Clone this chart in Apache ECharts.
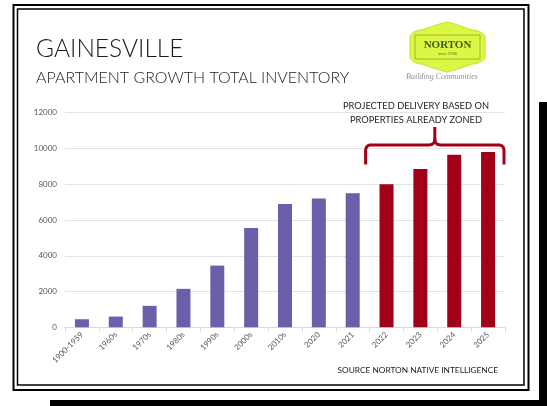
<!DOCTYPE html>
<html>
<head>
<meta charset="utf-8">
<script src="https://cdn.jsdelivr.net/npm/echarts@6/dist/echarts.min.js"></script>
<style>
  html, body { margin: 0; padding: 0; background: #ffffff; }
  #chart { width: 547px; height: 406px; }
</style>
</head>
<body>
<div id="chart"></div>
<script>
// Apartment inventory by period (units)
const categories = ['1900-1959', '1960s', '1970s', '1980s', '1990s', '2000s', '2010s', '2020', '2021', '2022', '2023', '2024', '2025'];
const existingUnits  = [450, 600, 1200, 2150, 3450, 5550, 6900, 7200, 7500, null, null, null, null];
const projectedUnits = [null, null, null, null, null, null, null, null, null, 8000, 8850, 9650, 9800];

const yMin = 0;
const yMax = 12000;
const yStep = 2000;

const titleText = 'GAINESVILLE';
const subtitleText = 'APARTMENT GROWTH TOTAL INVENTORY';
const noteLines = ['PROJECTED DELIVERY BASED ON', 'PROPERTIES ALREADY ZONED'];
const sourceText = 'SOURCE NORTON NATIVE INTELLIGENCE';

const PURPLE = '#6b5fa9';
const RED = '#a10018';
const FONT = 'Lato, "Open Sans", "Noto Sans", sans-serif';

const chart = echarts.init(document.getElementById('chart'), null, { renderer: 'canvas' });

const option = {
  backgroundColor: '#ffffff',
  animation: false,
  grid: { left: 65, right: 42, top: 112.7, bottom: 78.7, containLabel: false },
  xAxis: {
    type: 'category',
    data: categories,
    axisLine: { lineStyle: { color: '#d9d9d9', width: 1 } },
    axisTick: { show: true, alignWithLabel: false, length: 4, lineStyle: { color: '#d9d9d9' } },
    axisLabel: { rotate: 45, interval: 0, fontSize: 8, color: '#595959', fontFamily: FONT, margin: 6 }
  },
  yAxis: {
    type: 'value',
    min: yMin,
    max: yMax,
    interval: yStep,
    axisLine: { show: false },
    axisTick: { show: false },
    axisLabel: { fontSize: 8, color: '#595959', fontFamily: FONT, margin: 8, formatter: (v) => String(v) },
    splitLine: { lineStyle: { color: '#e3e3e3', width: 1 } }
  },
  series: [
    {
      name: 'Existing',
      type: 'bar',
      data: existingUnits,
      barWidth: 14,
      barGap: '-100%',
      itemStyle: { color: PURPLE }
    },
    {
      name: 'Projected',
      type: 'bar',
      data: projectedUnits,
      barWidth: 14,
      itemStyle: { color: RED }
    }
  ]
};

chart.setOption(option);

// Sample a quadratic curve into polyline points
function quad(p0, c, p1, n) {
  const pts = [];
  for (let i = 1; i <= n; i++) {
    const t = i / n, u = 1 - t;
    pts.push([u * u * p0[0] + 2 * u * t * c[0] + t * t * p1[0], u * u * p0[1] + 2 * u * t * c[1] + t * t * p1[1]]);
  }
  return pts;
}

// Brace spanning the projected years, placed from the axis scale
const cat0 = chart.convertToPixel({ gridIndex: 0 }, [9, 0]);
const cat1 = chart.convertToPixel({ gridIndex: 0 }, [10, 0]);
const catLast = chart.convertToPixel({ gridIndex: 0 }, [categories.length - 1, 0]);
const band = cat1[0] - cat0[0];
const bx0 = cat0[0] - band / 2 - 4;
const bx1 = catLast[0] + band / 2 - 1;
const yEnd = chart.convertToPixel({ gridIndex: 0 }, [0, 9100])[1];
const yBar = chart.convertToPixel({ gridIndex: 0 }, [0, 10200])[1];
const yTip = chart.convertToPixel({ gridIndex: 0 }, [0, 11200])[1];
const bmid = (bx0 + bx1) / 2;
const r = 6;

const leftHalf = [[bx0, yEnd], [bx0, yBar + r]]
  .concat(quad([bx0, yBar + r], [bx0, yBar], [bx0 + r, yBar], 8))
  .concat([[bmid - r, yBar]])
  .concat(quad([bmid - r, yBar], [bmid, yBar], [bmid, yBar - r], 8))
  .concat([[bmid, yTip]]);
const rightHalf = [[bmid, yBar - r]]
  .concat(quad([bmid, yBar - r], [bmid, yBar], [bmid + r, yBar], 8))
  .concat([[bx1 - r, yBar]])
  .concat(quad([bx1 - r, yBar], [bx1, yBar], [bx1, yBar + r], 8))
  .concat([[bx1, yEnd]]);

// Logo plaque outline
const plaque = [[410, 36]]
  .concat(quad([410, 36], [414, 30], [422, 30], 6))
  .concat(quad([422, 30], [438, 24], [447, 22], 8))
  .concat(quad([447, 22], [456, 24], [472, 30], 8))
  .concat(quad([472, 30], [480, 30], [485, 36], 6))
  .concat([[485, 58]])
  .concat(quad([485, 58], [480, 64], [472, 64], 6))
  .concat(quad([472, 64], [456, 70], [447, 72], 8))
  .concat(quad([447, 72], [438, 70], [422, 64], 8))
  .concat(quad([422, 64], [414, 64], [410, 58], 6));

chart.setOption({
  graphic: [
    // drop shadow of the card
    { type: 'rect', shape: { x: 539, y: 102, width: 8, height: 304 }, style: { fill: '#000' }, z: 1 },
    { type: 'rect', shape: { x: 50, y: 400, width: 497, height: 6 }, style: { fill: '#000' }, z: 1 },
    // double frame
    { type: 'rect', shape: { x: 13.5, y: 5, width: 515, height: 385 }, style: { fill: null, stroke: '#000', lineWidth: 2 }, z: 2 },
    { type: 'rect', shape: { x: 17.5, y: 9, width: 506.5, height: 376 }, style: { fill: null, stroke: '#000', lineWidth: 1.5 }, z: 2 },
    // headings
    { type: 'text', style: { text: titleText, x: 36, y: 49, verticalAlign: 'middle', fontFamily: FONT, fontWeight: 300, fontSize: 24.5, fill: '#1a1a1a' }, z: 5 },
    { type: 'text', style: { text: subtitleText, x: 36, y: 78, verticalAlign: 'middle', fontFamily: FONT, fontWeight: 300, fontSize: 16, fill: '#1a1a1a' }, z: 5 },
    // logo plaque
    { type: 'polygon', shape: { points: plaque }, style: { fill: '#dcf743', stroke: '#c3e02a', lineWidth: 1 }, z: 5 },
    { type: 'rect', shape: { x: 415, y: 35, width: 65, height: 24 }, style: { fill: null, stroke: '#8aa626', lineWidth: 0.8 }, z: 6 },
    { type: 'text', style: { text: 'NORTON', x: 447.5, y: 45, align: 'center', verticalAlign: 'middle', fontFamily: '"Liberation Serif", "DejaVu Serif", serif', fontWeight: 'bold', fontSize: 11, fill: '#3d5a12' }, z: 6 },
    { type: 'text', style: { text: 'since 1926', x: 447.5, y: 53.5, align: 'center', verticalAlign: 'middle', fontFamily: FONT, fontSize: 4, fill: '#5a6e2a' }, z: 6 },
    { type: 'text', style: { text: 'Building Communities', x: 442, y: 77, align: 'center', verticalAlign: 'middle', fontFamily: '"Liberation Serif", serif', fontStyle: 'italic', fontSize: 8, fill: '#8a8f96' }, z: 6 },
    // projected note and brace
    { type: 'text', style: { text: noteLines[0], x: 416, y: 106, align: 'center', verticalAlign: 'middle', fontFamily: FONT, fontSize: 9.3, fill: '#262626' }, z: 5 },
    { type: 'text', style: { text: noteLines[1], x: 416, y: 119.5, align: 'center', verticalAlign: 'middle', fontFamily: FONT, fontSize: 9.3, fill: '#262626' }, z: 5 },
    { type: 'polyline', shape: { points: leftHalf }, style: { fill: null, stroke: RED, lineWidth: 3, lineJoin: 'round' }, z: 5 },
    { type: 'polyline', shape: { points: rightHalf }, style: { fill: null, stroke: RED, lineWidth: 3, lineJoin: 'round' }, z: 5 },
    // source line
    { type: 'text', style: { text: sourceText, x: 498, y: 370, align: 'right', verticalAlign: 'middle', fontFamily: FONT, fontSize: 8.3, fill: '#1a1a1a' }, z: 5 }
  ]
});
</script>
</body>
</html>
